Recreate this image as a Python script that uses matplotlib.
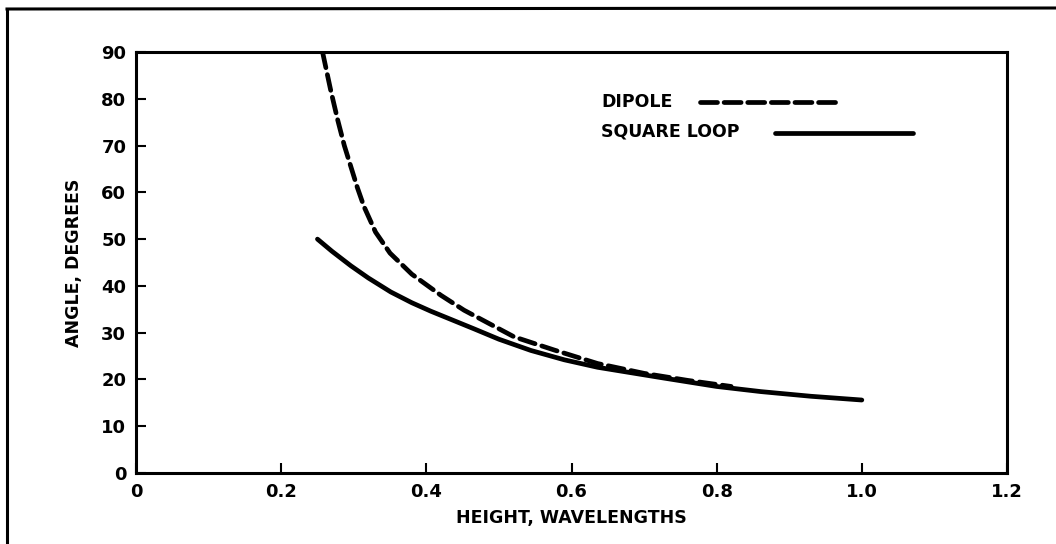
import matplotlib
matplotlib.use("Agg")
import matplotlib.pyplot as plt
from matplotlib.lines import Line2D

# Data
dipole_x = [0.257, 0.268, 0.278, 0.287, 0.296, 0.305, 0.314, 0.330, 0.350, 0.380, 0.420, 0.452, 0.521, 0.576, 0.636, 0.700, 0.760, 0.820]
dipole_y = [90.0, 82.0, 75.4, 70.0, 65.5, 61.0, 57.0, 51.5, 47.0, 42.5, 38.0, 34.8, 29.1, 26.3, 23.4, 21.3, 19.8, 18.5]
loop_x = [0.250, 0.270, 0.296, 0.320, 0.351, 0.380, 0.406, 0.466, 0.500, 0.544, 0.590, 0.636, 0.723, 0.800, 0.861, 0.930, 1.000]
loop_y = [50.0, 47.4, 44.3, 41.7, 38.7, 36.4, 34.6, 30.8, 28.6, 26.2, 24.2, 22.6, 20.4, 18.5, 17.4, 16.4, 15.6]
x_ticks = [0, 0.2, 0.4, 0.6, 0.8, 1.0, 1.2]
x_tick_labels = ["0", "0.2", "0.4", "0.6", "0.8", "1.0", "1.2"]
y_ticks = [0, 10, 20, 30, 40, 50, 60, 70, 80, 90]
series_names = ["DIPOLE", "SQUARE LOOP"]

plt.rcParams['font.family'] = ['DejaVu Sans']
plt.rcParams['font.weight'] = 'bold'

fig = plt.figure(figsize=(10.56, 5.44), dpi=100)
ax = fig.add_axes([136/1056, 1-473/544, (1007-136)/1056, (473-52)/544])

lw = 3.4
ax.plot(dipole_x, dipole_y, color='black', lw=lw, dashes=(3.4, 1.5), solid_capstyle='round',
        dash_capstyle='round', dash_joinstyle='round')
ax.plot(loop_x, loop_y, color='black', lw=lw, solid_capstyle='round', solid_joinstyle='round')

ax.set_xlim(0, 1.2)
ax.set_ylim(0, 90)
ax.set_xticks(x_ticks)
ax.set_xticklabels(x_tick_labels)
ax.set_yticks(y_ticks)
for s in ax.spines.values():
    s.set_linewidth(2.2)
ax.tick_params(direction='in', length=7, width=1.5, labelsize=13, pad=7)
for lab in ax.get_xticklabels() + ax.get_yticklabels():
    lab.set_fontweight('bold')

ax.set_xlabel("HEIGHT, WAVELENGTHS", fontsize=12.5, fontweight='bold', labelpad=6)
ax.set_ylabel("ANGLE, DEGREES", fontsize=12.5, fontweight='bold', labelpad=13)

# Hand-drawn style legend inside the plot
ax.text(0.641, 79.3, series_names[0], fontsize=12.5, fontweight='bold', va='center', ha='left')
ax.plot([0.777, 0.967], [79.3, 79.3], color='black', lw=lw, dashes=(3.6, 1.4), dash_capstyle='round')
ax.text(0.641, 73.0, series_names[1], fontsize=12.5, fontweight='bold', va='center', ha='left')
ax.plot([0.880, 1.070], [72.6, 72.6], color='black', lw=lw, solid_capstyle='round')

# Outer frame (top and left edges as in the scan)
fig.add_artist(Line2D([7/1056, 7/1056], [0, 1-10/544], transform=fig.transFigure, color='black', lw=2.2))
fig.add_artist(Line2D([7/1056, 1], [1-9/544, 1-8/544], transform=fig.transFigure, color='black', lw=2.2))

fig.savefig("out.png", dpi=100)
